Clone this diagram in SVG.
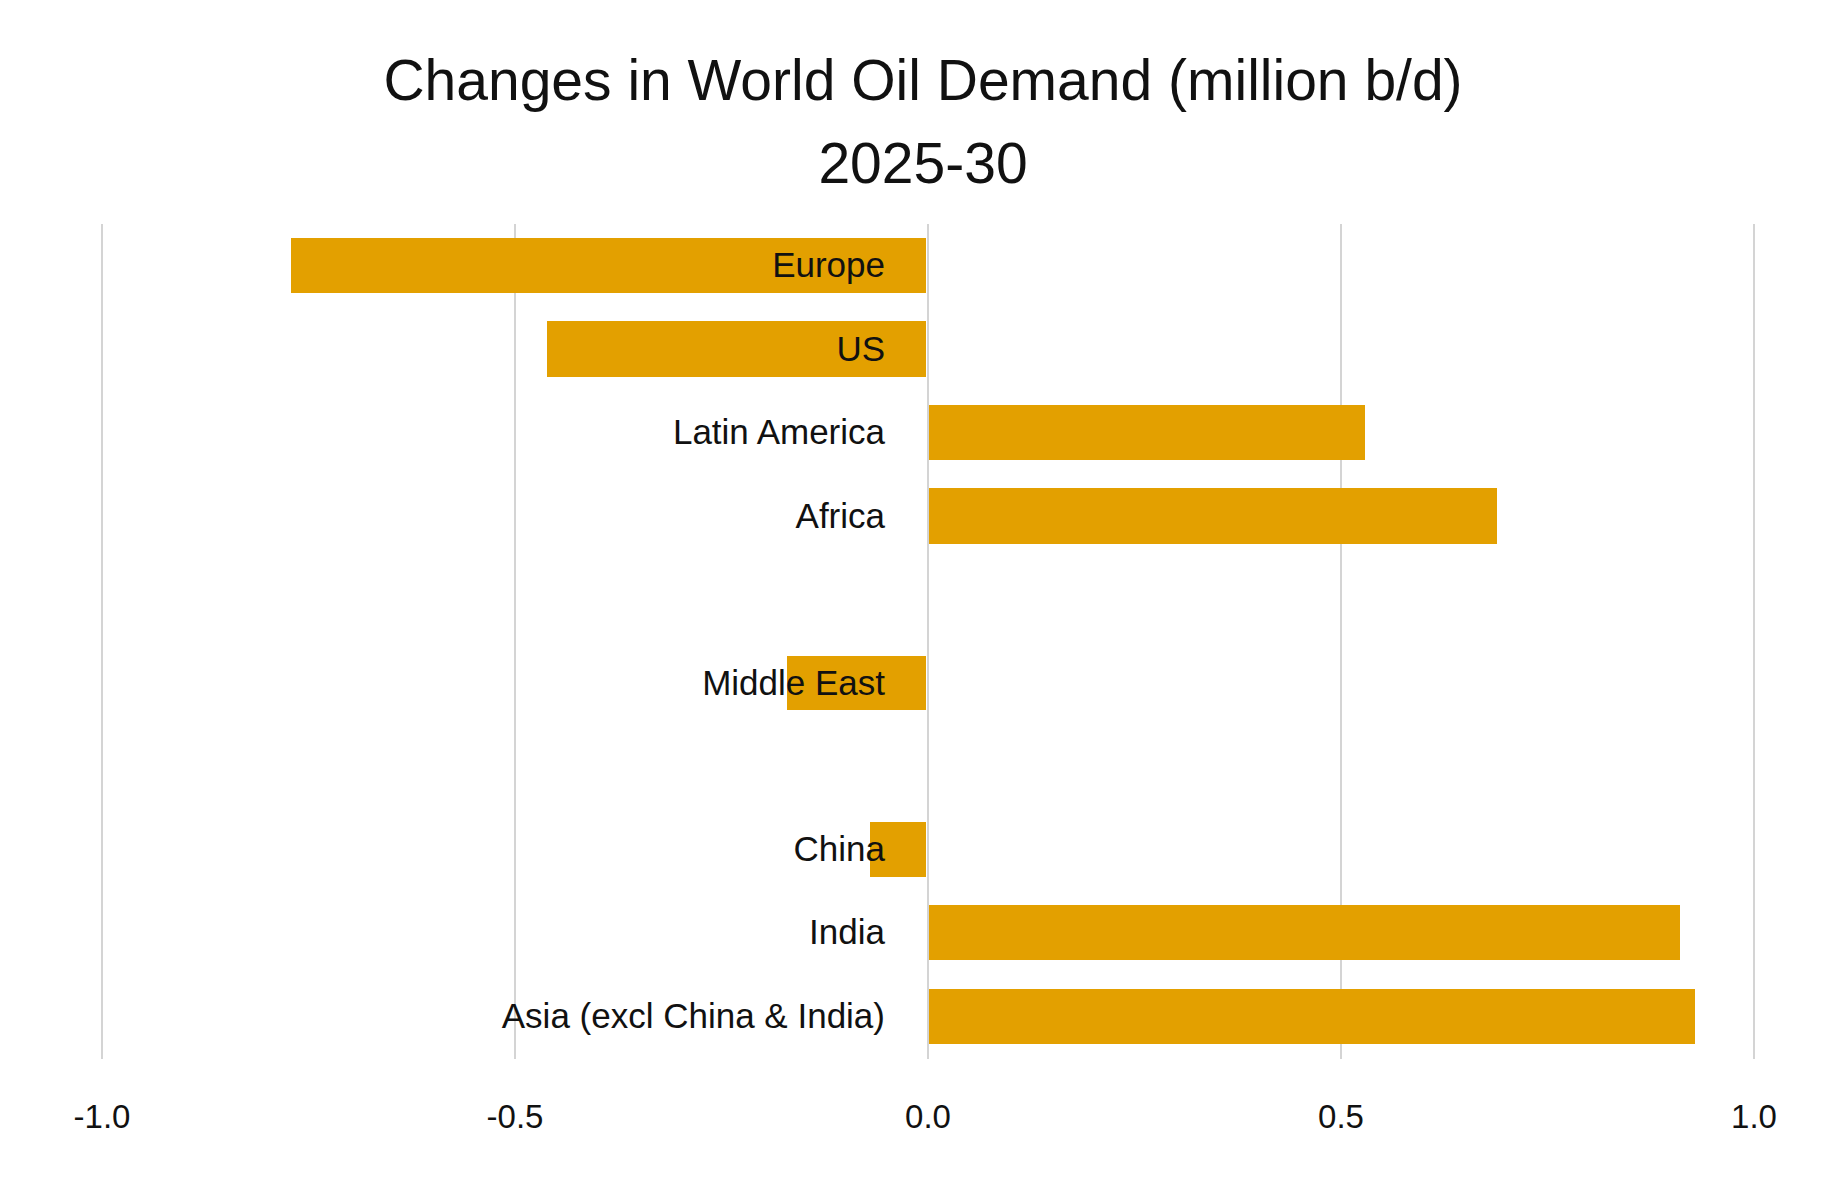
<svg xmlns="http://www.w3.org/2000/svg" width="1846" height="1200" viewBox="0 0 1846 1200">
<style>
.t{font-family:"Liberation Sans",Arial,sans-serif;fill:#111}
.bar{fill:#E3A000}
.grid{stroke:#d4d4d4;stroke-width:2}
.lab{font-size:35px;text-anchor:end}
.tick{font-size:33px;text-anchor:middle}
</style>
<rect width="1846" height="1200" fill="#fff"/>
<g id="title">
<text class="t" x="923" y="100" font-size="57" text-anchor="middle">Changes in World Oil Demand (million b/d)</text>
<text class="t" x="923" y="183" font-size="57" text-anchor="middle">2025-30</text>
</g>
<g id="grid">
<line class="grid" x1="102" y1="224" x2="102" y2="1059"/>
<line class="grid" x1="515" y1="224" x2="515" y2="1059"/>
<line class="grid" x1="928" y1="224" x2="928" y2="1059"/>
<line class="grid" x1="1341" y1="224" x2="1341" y2="1059"/>
<line class="grid" x1="1754" y1="224" x2="1754" y2="1059"/>
</g>
<g id="bars">
<rect class="bar" x="291" y="238" width="635" height="55"/>
<rect class="bar" x="547" y="321" width="379" height="56"/>
<rect class="bar" x="929" y="405" width="436" height="55"/>
<rect class="bar" x="929" y="488" width="568" height="56"/>
<rect class="bar" x="787" y="656" width="139" height="54"/>
<rect class="bar" x="870" y="822" width="56" height="55"/>
<rect class="bar" x="929" y="905" width="751" height="55"/>
<rect class="bar" x="929" y="989" width="766" height="55"/>
</g>
<g id="labels">
<text class="t lab" x="885" y="277">Europe</text>
<text class="t lab" x="885" y="361">US</text>
<text class="t lab" x="885" y="444">Latin America</text>
<text class="t lab" x="885" y="528">Africa</text>
<text class="t lab" x="885" y="695">Middle East</text>
<text class="t lab" x="885" y="861">China</text>
<text class="t lab" x="885" y="944">India</text>
<text class="t lab" x="885" y="1028">Asia (excl China &amp; India)</text>
</g>
<g id="ticks">
<text class="t tick" x="102" y="1128">-1.0</text>
<text class="t tick" x="515" y="1128">-0.5</text>
<text class="t tick" x="928" y="1128">0.0</text>
<text class="t tick" x="1341" y="1128">0.5</text>
<text class="t tick" x="1754" y="1128">1.0</text>
</g>
</svg>
